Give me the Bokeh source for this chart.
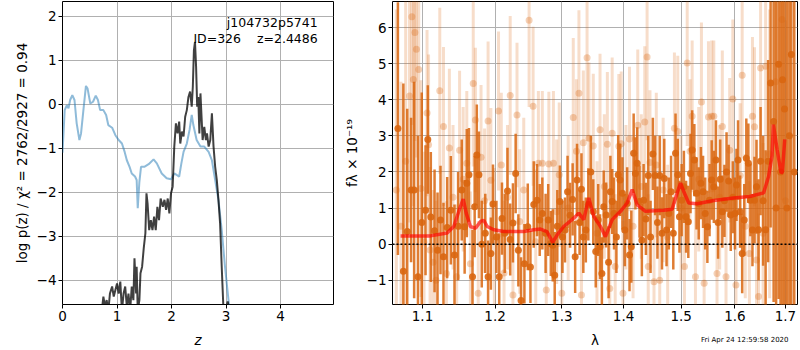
import numpy as np
from bokeh.plotting import figure
from bokeh.models import (Range1d, FixedTicker, PrintfTickFormatter, Label, Span,
                          ColumnDataSource, Title)
from bokeh.layouts import row
from bokeh.embed import file_html
from bokeh.resources import INLINE

# ---------------- left panel: redshift curves ----------------
z_blue = [0.0, 0.04, 0.08, 0.11, 0.14, 0.18, 0.22, 0.26, 0.31, 0.34,
          0.39, 0.43, 0.46, 0.51, 0.56, 0.61, 0.65, 0.69, 0.75, 0.80,
          0.84, 0.91, 0.97, 1.03, 1.09, 1.14, 1.18, 1.23, 1.27, 1.33,
          1.36, 1.38, 1.41, 1.44, 1.50, 1.58, 1.67, 1.73, 1.82, 1.91,
          1.99, 2.05, 2.10, 2.14, 2.18, 2.22, 2.28, 2.33, 2.37, 2.40,
          2.46, 2.53, 2.60, 2.68, 2.74, 2.80, 2.86, 2.92, 2.98, 3.05, 3.08]
logp_blue = [-1.1, -0.13, -0.02, -0.09, 0.10, 0.21, 0.10, -0.43, -0.81, -0.66,
             -0.05, 0.42, 0.36, 0.02, 0.06, 0.20, 0.10, -0.13, -0.13, -0.24,
             -0.47, -0.53, -0.70, -0.81, -0.89, -1.08, -1.27, -1.42, -1.57, -1.64,
             -1.72, -2.36, -1.76, -1.42, -1.42, -1.36, -1.25, -1.34, -1.57, -1.68,
             -1.70, -1.57, -1.61, -1.64, -1.34, -1.08, -0.89, -0.58, -0.24, -0.47,
             -0.81, -0.96, -0.96, -1.08, -1.27, -1.72, -2.17, -2.86, -3.69, -4.52, -4.9]

z_black = [0.72, 0.75, 0.78, 0.81, 0.84, 0.87, 0.91, 0.94, 0.97, 1.00,
           1.03, 1.06, 1.09, 1.12, 1.15, 1.18, 1.21, 1.24, 1.27, 1.30,
           1.32, 1.35, 1.36, 1.38, 1.41, 1.43, 1.46, 1.49, 1.52, 1.54,
           1.56, 1.59, 1.62, 1.65, 1.68, 1.71, 1.74, 1.77, 1.80, 1.84,
           1.87, 1.90, 1.93, 1.96, 1.99, 2.02, 2.05, 2.08, 2.11, 2.14,
           2.16, 2.19, 2.22, 2.25, 2.28, 2.31, 2.34, 2.37, 2.39, 2.41,
           2.43, 2.45, 2.47, 2.49, 2.51, 2.53, 2.57, 2.60, 2.63, 2.65,
           2.68, 2.71, 2.74, 2.77, 2.80, 2.83, 2.86, 2.89, 2.92, 2.95,
           2.99, 3.03, 3.06]
logp_black = [-4.7, -4.37, -4.6, -4.45, -4.7, -4.30, -4.14, -4.37, -4.22, -4.07,
              -4.30, -4.03, -4.7, -4.30, -4.14, -4.6, -4.30, -4.7, -4.14, -4.45,
              -3.5, -4.30, -3.69, -4.7, -4.45, -3.84, -3.69, -3.27, -2.93, -2.02,
              -2.25, -2.86, -2.63, -2.86, -2.55, -2.86, -2.33, -2.63, -2.14, -2.33,
              -2.17, -2.40, -2.14, -2.48, -2.02, -1.87, -0.96, -0.43, -0.66, -0.39,
              -0.89, -0.62, -0.73, -0.28, -0.13, 0.17, 0.29, -0.05, 0.40, 1.23,
              1.42, 0.86, -0.05, 0.17, -0.66, 0.25, -0.81, -0.51, -0.81, -0.66,
              -0.96, -0.81, -0.2, -0.96, -1.42, -1.72, -2.17, -2.70, -3.69, -4.6,
              -4.7, -4.48, -4.7]

z_ticks = [0, 1, 2, 3, 4]
logp_ticks = [-4, -3, -2, -1, 0, 1, 2]

# ---------------- right panel: spectrum ----------------
solid_wave = [1.068, 1.075, 1.080, 1.085, 1.089, 1.094, 1.099, 1.104, 1.107, 1.111,
              1.116, 1.120, 1.124, 1.128, 1.133, 1.138, 1.143, 1.148, 1.153, 1.157,
              1.160, 1.163, 1.168, 1.171, 1.174, 1.177, 1.181, 1.186, 1.190, 1.194,
              1.197, 1.202, 1.206, 1.210, 1.214, 1.218, 1.222, 1.226, 1.230, 1.234,
              1.238, 1.243, 1.248, 1.252, 1.257, 1.262, 1.266, 1.270, 1.275, 1.279,
              1.283, 1.286, 1.289, 1.293, 1.297, 1.301, 1.305, 1.309, 1.313, 1.317,
              1.321, 1.324, 1.328, 1.331, 1.334, 1.338, 1.342, 1.346, 1.350, 1.354,
              1.358, 1.361, 1.364, 1.367, 1.371, 1.375, 1.378, 1.381, 1.384, 1.388,
              1.391, 1.394, 1.398, 1.402, 1.406, 1.410, 1.413, 1.417, 1.420, 1.423,
              1.427, 1.431, 1.434, 1.438, 1.442, 1.446, 1.450, 1.454, 1.458, 1.462,
              1.466, 1.470, 1.474, 1.478, 1.482, 1.486, 1.490, 1.494, 1.497, 1.501,
              1.505, 1.509, 1.513, 1.517, 1.520, 1.524, 1.528, 1.532, 1.536, 1.540,
              1.544, 1.548, 1.552, 1.556, 1.560, 1.564, 1.568, 1.572, 1.576, 1.580,
              1.584, 1.588, 1.592, 1.596, 1.600, 1.603, 1.606, 1.610, 1.614, 1.618,
              1.622, 1.626, 1.630, 1.634, 1.638, 1.642, 1.646, 1.650, 1.655, 1.660,
              1.665, 1.670, 1.676, 1.681, 1.686, 1.690, 1.694, 1.698, 1.703, 1.708,
              1.712, 1.718]
solid_flux = [3.2, -0.75, 0.35, 1.5, 1.5, -0.9, 0.6, 0.94, 2.9, 0.75,
              0.37, -0.17, 0.67, -0.35, 0.46, 0.94, -0.3, 0.5, 1.5, 0.48,
              1.69, 1.92, -0.9, 1.04, 2.47, 1.92, 0.0, 0.3, -0.9, -0.26,
              1.11, 0.2, -0.9, 0.71, 0.3, 1.47, 0.13, 0.59, 1.96, -0.17,
              -1.56, -0.54, 0.48, -0.63, 1.1, 1.22, 0.67, 0.85, 0.3, 0.67,
              0.02, -0.03, -0.86, 0.5, 1.18, 0.2, 0.39, 1.45, 0.8, 1.24,
              -0.35, 1.78, 0.6, 1.52, 0.2, 0.39, 1.1, 2.0, 0.9, -0.2,
              0.67, -0.07, -0.81, 1.04, 0.81, -0.5, 1.45, 1.18, 0.85, 0.2,
              1.92, 1.78, 1.41, 0.39, 1.13, -0.3, -0.07, 2.52, 1.96, 2.24,
              1.18, 0.11, 1.22, 0.7, 1.9, 0.2, 2.5, 1.9, 0.6, 1.9,
              0.3, 1.82, 0.39, 0.85, 1.45, 0.3, 2.52, 1.92, 0.76, 1.22,
              1.59, 0.76, 0.62, 1.96, 2.61, 2.33, 1.41, 1.13, 1.69, 1.45,
              0.85, 0.48, 1.22, 1.78, 1.59, 2.33, 0.6, 1.8, 0.9, 1.2,
              2.0, 1.75, 0.81, 1.3, 0.85, 1.64, 2.33, 0.9, -0.26, 0.67,
              2.38, 2.24, 1.22, 0.39, 1.22, 1.59, 0.4, 2.3, 1.2, 0.4,
              2.3, 4.46, 3.4, 1.0, 4.98, 2.0, 4.55, 3.74, 1.0, 3.0,
              5.25, 2.0]
solid_err = [3.5, 5.2, 3.4, 2.0, 3.0, 3.9, 3.6, 1.8, 1.5, 1.8,
             1.7, 1.6, 1.5, 1.5, 1.4, 1.5, 1.4, 1.5, 1.4, 1.3,
             1.5, 1.3, 1.3, 1.4, 1.4, 1.2, 1.2, 1.1, 1.0, 1.0,
             1.1, 1.0, 1.2, 1.0, 1.1, 1.2, 1.0, 1.1, 1.1, 1.0,
             1.2, 1.1, 1.2, 1.0, 1.2, 1.0, 1.0, 1.0, 1.1, 1.0,
             0.9, 1.0, 1.2, 1.0, 1.0, 1.0, 0.9, 1.0, 0.9, 1.0,
             1.0, 1.0, 0.9, 1.0, 1.0, 0.9, 1.0, 1.0, 0.9, 1.0,
             1.0, 0.9, 1.0, 1.0, 0.9, 1.0, 1.0, 0.9, 1.0, 1.0,
             1.1, 1.0, 1.0, 1.0, 1.0, 1.0, 1.0, 1.1, 1.0, 1.0,
             1.0, 1.0, 1.0, 1.0, 1.1, 1.0, 1.0, 1.1, 1.0, 1.1,
             1.0, 1.1, 1.0, 1.0, 1.0, 1.0, 1.1, 1.0, 1.0, 1.0,
             1.0, 1.0, 1.0, 1.1, 1.1, 1.0, 1.0, 1.0, 1.0, 1.0,
             1.0, 1.0, 1.0, 1.1, 1.0, 1.1, 1.0, 1.1, 1.0, 1.0,
             1.1, 1.0, 1.0, 1.0, 1.0, 1.0, 1.1, 1.0, 1.1, 1.0,
             1.1, 1.1, 1.0, 1.0, 1.2, 1.3, 1.4, 1.5, 1.8, 2.2,
             2.8, 4.0, 5.0, 6.0, 6.5, 6.5, 7.0, 7.0, 7.0, 7.0,
             7.0, 7.0]

faint_wave = [1.066, 1.072, 1.078, 1.083, 1.086, 1.088, 1.090, 1.092, 1.095, 1.098,
              1.102, 1.106, 1.108, 1.110, 1.114, 1.118, 1.123, 1.128, 1.132, 1.136,
              1.141, 1.146, 1.150, 1.155, 1.160, 1.165, 1.169, 1.172, 1.176, 1.180,
              1.185, 1.190, 1.194, 1.199, 1.205, 1.209, 1.213, 1.218, 1.222, 1.226,
              1.232, 1.236, 1.242, 1.250, 1.256, 1.260, 1.264, 1.270, 1.276, 1.280,
              1.287, 1.292, 1.296, 1.300, 1.310, 1.318, 1.323, 1.327, 1.331, 1.334,
              1.340, 1.343, 1.350, 1.356, 1.361, 1.368, 1.373, 1.377, 1.381, 1.386,
              1.392, 1.396, 1.399, 1.404, 1.410, 1.416, 1.424, 1.430, 1.436, 1.440,
              1.442, 1.445, 1.452, 1.456, 1.462, 1.468, 1.476, 1.488, 1.494, 1.500,
              1.506, 1.511, 1.516, 1.520, 1.526, 1.532, 1.537, 1.542, 1.550, 1.556,
              1.560, 1.566, 1.571, 1.576, 1.583, 1.590, 1.596, 1.602, 1.610, 1.614,
              1.620, 1.628, 1.634, 1.638, 1.642, 1.646, 1.650, 1.655, 1.660, 1.668,
              1.680, 1.693, 1.700]
faint_flux = [1.5, 0.5, 2.3, 4.1, 6.3, 4.56, 5.86, 5.4, 4.84, 1.54,
              0.06, 3.63, 2.75, -0.16, -0.5, -1.0, 4.25, 3.26, -0.81, 2.66,
              1.3, -0.9, 2.6, 1.8, 2.24, -0.54, 4.45, 3.44, -1.36, 2.41,
              1.2, 3.41, 1.77, 0.11, 3.69, 2.19, -0.8, 1.3, 4.12, -1.41,
              3.58, 0.63, 1.5, 6.2, 3.82, 0.07, 2.24, 2.24, -1.27, 2.22,
              2.24, 0.9, 1.92, -1.36, 1.0, 3.51, 2.57, 4.18, -1.41, 2.81,
              5.16, 2.93, 2.72, 0.3, 3.17, 1.6, 2.77, -1.23, 3.07, -0.62,
              2.71, 2.78, -1.36, 1.3, 2.91, 0.5, 3.29, 1.6, 3.38, 5.18,
              -0.62, 2.26, -1.04, 2.19, -1.0, 1.5, 0.2, 3.21, 3.12, 1.0,
              -0.62, 5.02, 2.57, 3.54, -0.9, 1.8, 3.94, -1.08, 3.52, 3.54,
              3.54, -0.81, 1.3, 3.26, -0.9, 2.6, 4.02, -1.13, 1.9, 4.68,
              0.5, -0.26, 3.54, 3.25, -0.44, -1.45, 4.88, 0.3, 4.93, 2.5,
              4.5, 6.22, 1.2]
faint_err = [5.0, 4.0, 4.5, 3.5, 3.0, 3.5, 3.0, 3.0, 2.8, 3.0,
             2.5, 2.3, 2.5, 2.3, 2.0, 2.2, 2.3, 2.2, 2.0, 2.2,
             2.0, 2.0, 2.2, 2.0, 2.0, 2.0, 2.3, 2.0, 2.0, 2.0,
             2.0, 2.2, 2.0, 2.0, 2.2, 2.0, 2.0, 2.0, 2.2, 2.0,
             2.0, 2.0, 2.0, 2.4, 2.2, 2.0, 2.0, 2.0, 2.0, 2.0,
             2.0, 2.0, 2.0, 2.0, 2.0, 2.2, 2.0, 2.3, 2.0, 2.0,
             2.3, 2.1, 2.0, 2.0, 2.1, 2.0, 2.0, 2.0, 2.1, 2.0,
             2.0, 2.0, 2.0, 2.0, 2.0, 2.0, 2.1, 2.0, 2.1, 2.3,
             2.0, 2.0, 2.0, 2.0, 2.0, 2.0, 2.0, 2.1, 2.1, 2.0,
             2.0, 2.3, 2.0, 2.1, 2.0, 2.0, 2.2, 2.0, 2.1, 2.1,
             2.1, 2.0, 2.0, 2.1, 2.0, 2.0, 2.2, 2.0, 2.0, 2.3,
             2.0, 2.0, 2.2, 2.2, 2.2, 2.3, 2.6, 2.5, 3.0, 4.0,
             4.5, 5.0, 5.0]

model_wave = [1.0714, 1.1106, 1.133, 1.142, 1.1513, 1.155, 1.1592, 1.165, 1.1722, 1.1792,
              1.1839, 1.1888, 1.1982, 1.2127, 1.2421, 1.2571, 1.2672, 1.277, 1.286, 1.2928,
              1.303, 1.3188, 1.3267, 1.3347, 1.3427, 1.3508, 1.3617, 1.3699, 1.381, 1.3948,
              1.406, 1.4145, 1.423, 1.4373, 1.469, 1.4839, 1.4929, 1.499, 1.5047, 1.5138,
              1.529, 1.56, 1.5977, 1.6286, 1.656, 1.666, 1.6727, 1.6756, 1.683, 1.6911,
              1.6938, 1.6985]
model_flux = [0.23, 0.23, 0.31, 0.49, 1.05, 1.25, 0.86, 0.49, 0.44, 0.63,
              0.66, 0.49, 0.40, 0.35, 0.35, 0.40, 0.42, 0.35, 0.05, 0.26,
              0.49, 0.72, 0.86, 0.68, 1.28, 0.77, 0.49, 0.21, 0.68, 0.91,
              1.14, 1.51, 1.09, 0.91, 0.94, 0.97, 1.42, 1.69, 1.46, 1.14,
              1.12, 1.21, 1.28, 1.32, 1.42, 1.88, 2.44, 3.31, 2.62, 1.97,
              2.0, 2.9]

wave_ticks = [1.1, 1.2, 1.3, 1.4, 1.5, 1.6, 1.7]
flux_ticks = [-1, 0, 1, 2, 3, 4, 5, 6]

FONT = "DejaVu Sans"
ORANGE = "#d9660f"
NB = "\u00a0"


def style(p, xticks, yticks):
    p.outline_line_color = "black"
    p.outline_line_alpha = 1.0
    p.outline_line_width = 1
    p.background_fill_color = "white"
    p.border_fill_color = "white"
    for ax in (p.xaxis[0], p.yaxis[0]):
        ax.axis_line_color = None
        ax.major_tick_out = 4
        ax.major_tick_in = 0
        ax.minor_tick_out = 0
        ax.minor_tick_in = 0
        ax.major_tick_line_color = "black"
        ax.major_label_text_font = FONT
        ax.major_label_text_font_size = "13.5px"
        ax.major_label_text_color = "black"
        ax.axis_label_text_font = FONT
        ax.axis_label_text_font_size = "13.5px"
        ax.axis_label_text_font_style = "normal"
        ax.axis_label_text_color = "black"
        ax.major_label_standoff = 2
        ax.axis_label_standoff = 4
    p.xaxis[0].axis_label_standoff = 8
    p.xaxis[0].ticker = FixedTicker(ticks=xticks)
    p.yaxis[0].ticker = FixedTicker(ticks=yticks)
    p.xgrid.ticker = FixedTicker(ticks=xticks)
    p.ygrid.ticker = FixedTicker(ticks=yticks)
    p.grid.grid_line_color = "#b0b0b0"
    p.grid.grid_line_width = 1
    p.yaxis[0].major_label_overrides = {t: ("\u2212" + str(-t)) for t in yticks if t < 0}


# ----- left figure -----
p1 = figure(width=340, height=350, x_range=Range1d(0, 4.97), y_range=Range1d(-4.55, 2.34),
            output_backend="svg", toolbar_location=None,
            min_border_left=62, min_border_right=7, min_border_top=1, min_border_bottom=46)
style(p1, z_ticks, logp_ticks)
p1.line(z_blue, logp_blue, line_color="#1f77b4", line_alpha=0.5, line_width=2)
p1.line(z_black, logp_black, line_color="black", line_alpha=0.75, line_width=2)
p1.xaxis.axis_label = "z"
p1.xaxis.axis_label_text_font_style = "italic"
p1.yaxis.axis_label = "log p(z) / \u03c7\u00b2 = 2762/2927 = 0.94"
p1.add_layout(Label(x=4.68, y=2.03, text="j104732p5741", text_align="right",
                    text_baseline="top", text_font=FONT, text_font_size="12.5px",
                    text_color="black"))
p1.add_layout(Label(x=4.68, y=1.68, text="ID=326" + NB * 4 + "z=2.4486", text_align="right",
                    text_baseline="top", text_font=FONT, text_font_size="12.5px",
                    text_color="black"))

# ----- right figure -----
p2 = figure(width=460, height=350, x_axis_type="log",
            x_range=Range1d(1.0611, 1.7247), y_range=Range1d(-1.67, 6.72),
            output_backend="svg", toolbar_location=None,
            min_border_left=52, min_border_right=3, min_border_top=1, min_border_bottom=46)
style(p2, wave_ticks, flux_ticks)
p2.xaxis[0].formatter = PrintfTickFormatter(format="%.1f")

fw = np.array(faint_wave)
ff = np.array(faint_flux)
fe = np.array(faint_err)
faint_src = ColumnDataSource(dict(w=fw, f=ff, lo=ff - fe, hi=ff + fe))
sw = np.array(solid_wave)
sf = np.array(solid_flux)
se = np.array(solid_err)
solid_src = ColumnDataSource(dict(w=sw, f=sf, lo=sf - se, hi=sf + se))

p2.segment(x0="w", y0="lo", x1="w", y1="hi", source=faint_src,
           line_color=ORANGE, line_alpha=0.22, line_width=3)
p2.scatter(x="w", y="f", source=faint_src, size=7, fill_color=ORANGE,
           fill_alpha=0.3, line_color=None)
p2.segment(x0="w", y0="lo", x1="w", y1="hi", source=solid_src,
           line_color=ORANGE, line_alpha=0.85, line_width=2.5)
p2.scatter(x="w", y="f", source=solid_src, size=7, fill_color=ORANGE,
           fill_alpha=0.9, line_color=None)
p2.line(model_wave, model_flux, line_color="red", line_alpha=0.65, line_width=3.5)
p2.add_layout(Span(location=0, dimension="width", line_color="black",
                   line_dash="2 2", line_width=1.6))
p2.xaxis.axis_label = "\u03bb"
p2.yaxis.axis_label = "f\u03bb \u00d7 10\u207b\u00b9\u2079"
p2.add_layout(Title(text="Fri Apr 24 12:59:58 2020", align="right", vertical_align="top",
                    text_font=FONT, text_font_size="7px", text_font_style="normal",
                    text_color="black", standoff=-30, offset=9), "below")

layout = row(p1, p2)
open("out.html", "w").write(file_html(layout, INLINE))
